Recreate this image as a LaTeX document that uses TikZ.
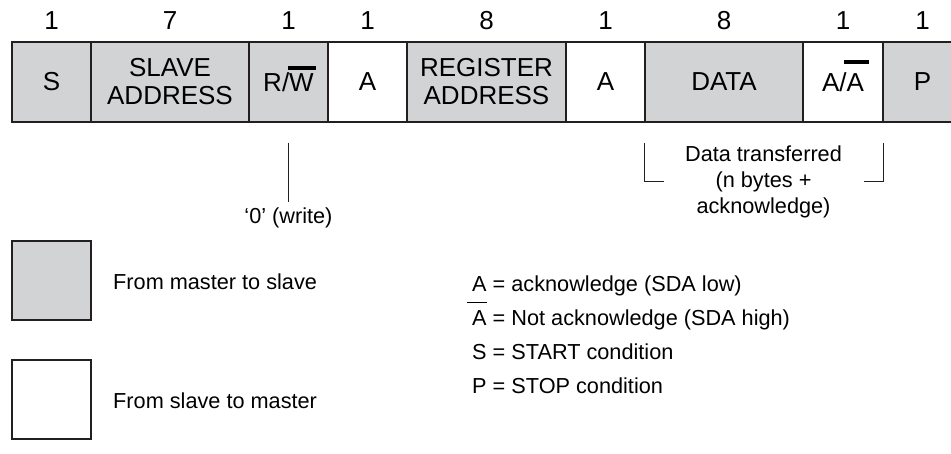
\documentclass[tikz,border=0pt]{standalone}
\usepackage{fontspec}
\setmainfont{Liberation Sans}
\definecolor{boxgrey}{HTML}{D1D3D4}
\definecolor{edge}{HTML}{231F20}
\newsavebox\ovlbox
% #1 raise of bar bottom above baseline, #2 thickness, #3 left ext, #4 right ext, #5 text
\newcommand\barover[5]{\sbox\ovlbox{#5}\smash{\rlap{\hspace*{-#3}\raisebox{#1}{\rule{\dimexpr\wd\ovlbox+#3+#4\relax}{#2}}}}\usebox\ovlbox}
\begin{document}
\begin{tikzpicture}[x=1pt,y=-1pt,
  field/.style={draw=edge,line width=1.6pt,minimum height=80pt,inner sep=0pt,align=center,font=\fontsize{26}{28}\selectfont},
  master/.style={field,fill=boxgrey},
  slavebox/.style={field,fill=white},
  count/.style={font=\fontsize{26}{28}\selectfont,inner sep=0pt},
  note/.style={font=\fontsize{21.7}{26}\selectfont,inner sep=0pt,text=black},
  guide/.style={line width=1pt,draw=edge}]
\useasboundingbox (0,0) rectangle (951,453);
\clip (0,0) rectangle (951,453);
% frame fields
\node[master,minimum width=79pt]   (s)     at (51.5,82)  {S};
\node[master,minimum width=158pt]  (slave) at (170,82)   {SLAVE\\ADDRESS};
\node[master,minimum width=79pt]   (rw)    at (288.5,82) {R/\barover{21pt}{4pt}{1pt}{2pt}{W}};
\node[slavebox,minimum width=79pt] (a1)    at (367.5,82) {A};
\node[master,minimum width=159pt]  (reg)   at (486.5,82) {REGISTER\\ADDRESS};
\node[slavebox,minimum width=79pt] (a2)    at (605.5,82) {A};
\node[master,minimum width=158pt]  (data)  at (724,82)   {DATA};
\node[slavebox,minimum width=80pt] (aa)    at (843,82)   {A/\barover{27pt}{4pt}{3pt}{5pt}{A}};
\node[master,minimum width=79pt]   (p)     at (922.5,82) {P};
% bit counts
\node[count] (ns)     at (51.5,20.5)  {1};
\node[count] (nslave) at (170,20.5)   {7};
\node[count] (nrw)    at (288.5,20.5) {1};
\node[count] (na1)    at (367.5,20.5) {1};
\node[count] (nreg)   at (486.5,20.5) {8};
\node[count] (na2)    at (605.5,20.5) {1};
\node[count] (ndata)  at (724,20.5)   {8};
\node[count] (naa)    at (843,20.5)   {1};
\node[count] (np)     at (922.5,20.5) {1};
% R/W annotation
\node[note] (write) at (288.5,218) {‘0’ (write)};
\draw[guide] ([yshift=-20pt]rw.south) -- ([yshift=6pt]rw.south |- write.north);
% data bracket
\node[note,align=center] (dt) at (763.5,181.5) {Data transferred\\(n bytes +\\acknowledge)};
\draw[guide] ([yshift=-20pt]data.south west) -- ++(0,39) -- ++(20,0);
\draw[guide] ([yshift=-20pt]aa.south east) -- ++(0,39) -- ++(-20,0);
% legend
\node[master,minimum width=79pt,minimum height=79pt] (leg1) at (51.5,280.5) {};
\node[slavebox,minimum width=79pt,minimum height=79pt] (leg2) at (51.5,399.5) {};
\node[note,anchor=base west] (tleg1) at (113,289) {From master to slave};
\node[note,anchor=base west] (tleg2) at (113,408) {From slave to master};
\node[note,anchor=base west] (k1) at (472,291) {A = acknowledge (SDA low)};
\node[note,anchor=base west] (k2) at (472,325) {\barover{22pt}{1pt}{5pt}{0pt}{A} = Not acknowledge (SDA high)};
\node[note,anchor=base west] (k3) at (472,359) {S = START condition};
\node[note,anchor=base west] (k4) at (472,393) {P = STOP condition};
\end{tikzpicture}
\end{document}
